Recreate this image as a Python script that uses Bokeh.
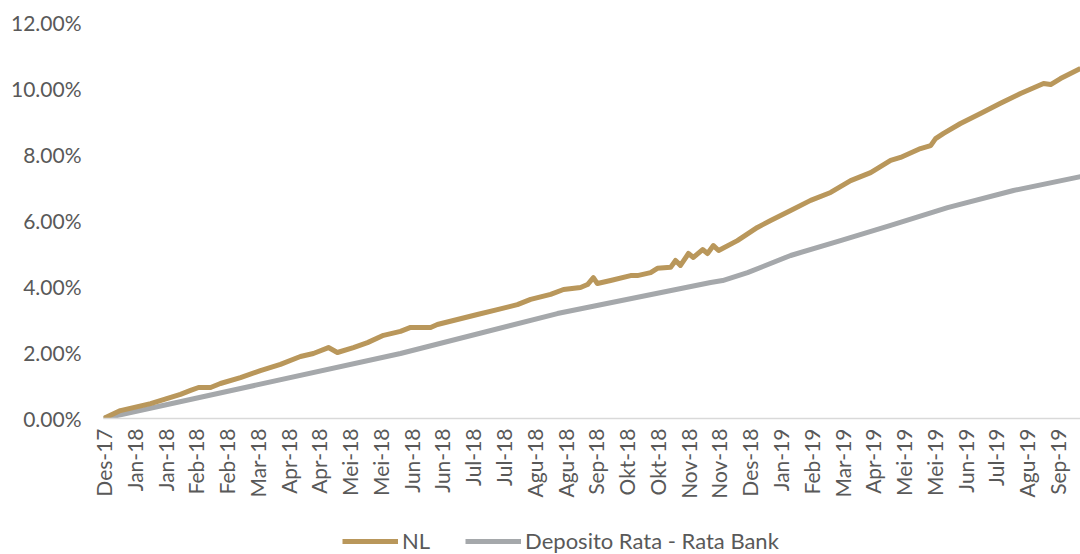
from math import pi
from bokeh.plotting import figure
from bokeh.layouts import column
from bokeh.models import Range1d, FixedTicker, PrintfTickFormatter, Legend, LegendItem
from bokeh.embed import file_html
from bokeh.resources import INLINE

tick_labels = ["Des-17", "Jan-18", "Jan-18", "Feb-18", "Feb-18", "Mar-18", "Apr-18", "Apr-18",
               "Mei-18", "Mei-18", "Jun-18", "Jun-18", "Jul-18", "Jul-18", "Agu-18", "Agu-18",
               "Sep-18", "Okt-18", "Okt-18", "Nov-18", "Nov-18", "Des-18", "Jan-19", "Feb-19",
               "Mar-19", "Apr-19", "Mei-19", "Mei-19", "Jun-19", "Jul-19", "Agu-19", "Sep-19"]

# positions in units of label steps, values in percent
nl_x = [0, 0.55, 1.53, 2.50, 2.83, 3.09, 3.48, 3.80, 4.45, 5.10, 5.75, 6.40, 6.82, 7.31, 7.60,
        8.12, 8.58, 9.10, 9.65, 9.98, 10.63, 10.85, 11.50, 12.15, 12.80, 13.45, 13.88, 14.53,
        14.95, 15.50, 15.73, 15.92, 16.05, 16.48, 17.13, 17.35, 17.78, 18.00, 18.43, 18.59,
        18.75, 19.01, 19.17, 19.47, 19.63, 19.82, 19.99, 20.60, 21.25, 21.68, 22.33, 22.98,
        23.63, 24.28, 24.93, 25.58, 25.90, 26.55, 26.88, 27.04, 27.30, 27.85, 28.50, 29.15,
        29.80, 30.55, 30.78, 31.10, 31.75]
nl_y = [0, 0.24, 0.45, 0.73, 0.85, 0.94, 0.94, 1.06, 1.24, 1.45, 1.64, 1.88, 1.97, 2.15, 2.00,
        2.15, 2.30, 2.52, 2.64, 2.76, 2.76, 2.85, 3.00, 3.15, 3.30, 3.45, 3.61, 3.76,
        3.91, 3.97, 4.06, 4.27, 4.09, 4.18, 4.33, 4.33, 4.42, 4.55, 4.58, 4.79,
        4.64, 5.00, 4.88, 5.12, 5.00, 5.24, 5.09, 5.39, 5.79, 6.00, 6.30, 6.61,
        6.85, 7.21, 7.45, 7.82, 7.91, 8.18, 8.27, 8.48, 8.64, 8.94, 9.24, 9.55,
        9.85, 10.15, 10.12, 10.30, 10.61]

dep_x = [0, 9.65, 14.75, 19.73, 20.12, 20.93, 22.33, 23.95, 25.58, 27.43, 29.57, 31.75]
dep_y = [0, 1.97, 3.18, 4.12, 4.18, 4.42, 4.94, 5.39, 5.85, 6.39, 6.91, 7.33]

series_names = ["NL", "Deposito Rata - Rata Bank"]
series_colors = ["#B9975B", "#A5A8AB"]

FONT = "Lato"
TXT = "#595959"

p = figure(width=1080, height=510, output_backend="svg", toolbar_location=None,
           x_range=Range1d(0, 31.75), y_range=Range1d(0, 12),
           min_border_left=103, min_border_right=0, min_border_top=22, min_border_bottom=92)
p.outline_line_color = None
p.xgrid.visible = False
p.ygrid.visible = False

r_nl = p.line(nl_x, nl_y, line_color=series_colors[0], line_width=5, line_join="round")
r_dep = p.line(dep_x, dep_y, line_color=series_colors[1], line_width=5, line_join="round")
p.renderers = [r_dep, r_nl]

# y axis
p.yaxis.ticker = FixedTicker(ticks=[0, 2, 4, 6, 8, 10, 12])
p.yaxis.formatter = PrintfTickFormatter(format="%.2f%%")
p.yaxis.axis_line_color = None
p.yaxis.major_tick_line_color = None
p.yaxis.minor_tick_line_color = None
p.yaxis.major_tick_out = 0
p.yaxis.major_label_standoff = 22
p.yaxis.major_label_text_font = FONT
p.yaxis.major_label_text_font_size = "21px"
p.yaxis.major_label_text_color = TXT

# x axis
p.xaxis.ticker = FixedTicker(ticks=list(range(len(tick_labels))))
p.xaxis.major_label_overrides = {i: lab for i, lab in enumerate(tick_labels)}
p.xaxis.major_label_orientation = pi / 2
p.xaxis.axis_line_color = "#D9D9D9"
p.xaxis.axis_line_width = 1.5
p.xaxis.major_tick_line_color = None
p.xaxis.minor_tick_line_color = None
p.xaxis.major_tick_out = 0
p.xaxis.major_label_standoff = 10
p.xaxis.major_label_text_font = FONT
p.xaxis.major_label_text_font_size = "21px"
p.xaxis.major_label_text_color = TXT

# legend strip below the chart (proxy lines lie outside the visible range)
pl = figure(width=1080, height=44, output_backend="svg", toolbar_location=None,
            x_range=Range1d(0, 1), y_range=Range1d(0, 1),
            x_axis_location=None, y_axis_location=None,
            min_border_left=0, min_border_right=0, min_border_top=0, min_border_bottom=0)
pl.outline_line_color = None
pl.xgrid.visible = False
pl.ygrid.visible = False
lr = [pl.line(x=[-3, -2], y=[-3, -3], line_color=c, line_width=5) for c in series_colors]
legend = Legend(items=[LegendItem(label=n, renderers=[r]) for n, r in zip(series_names, lr)],
                location=(239, 0), orientation="horizontal",
                padding=0, margin=0, spacing=35, glyph_width=56, glyph_height=20,
                label_standoff=4, label_text_font=FONT, label_text_font_size="22px",
                label_text_color=TXT, background_fill_alpha=0, border_line_color=None)
pl.add_layout(legend, "center")

layout = column(p, pl, spacing=0)
open("out.html", "w").write(file_html(layout, INLINE))
